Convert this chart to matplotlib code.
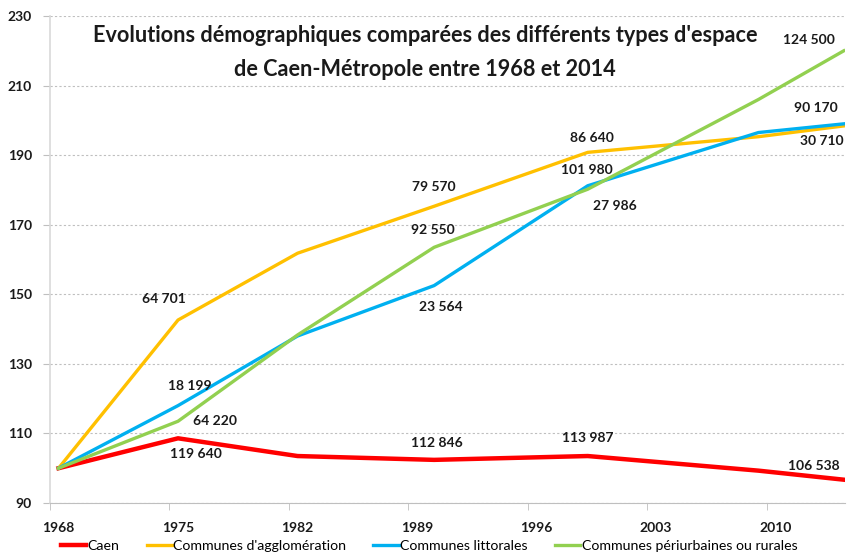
import matplotlib
matplotlib.use('Agg')
import matplotlib.pyplot as plt

# census years and indices (base 100 in 1968)
years = [1968, 1975, 1982, 1990, 1999, 2009, 2014]
caen = [100, 108.6, 103.5, 102.4, 103.5, 99.3, 96.7]
agglo = [100, 142.6, 161.8, 175.3, 190.8, 195.3, 198.4]
littoral = [100, 118.0, 138.0, 152.5, 181.2, 196.5, 199.0]
periurb = [100, 113.5, 138.3, 163.5, 180.2, 206.0, 220.0]

series_names = ["Caen", "Communes d'agglomération", "Communes littorales",
                "Communes périurbaines ou rurales"]
colors = ["#FF0000", "#FFC000", "#00B0F0", "#92D050"]

# data labels: (series index, year, text, dx px, dy px)
labels = [
    (0, 1975, "119 640", 18, -16),
    (0, 1990, "112 846", 3, 17),
    (0, 1999, "113 987", 0, 18),
    (0, 2014, "106 538", -30, 14),
    (1, 1975, "64 701", -14, 21),
    (1, 1990, "79 570", 0, 19),
    (1, 1999, "86 640", 4, 14),
    (1, 2014, "90 170", -28, 18),
    (2, 1975, "18 199", 12, 20),
    (2, 1990, "23 564", 7, -21),
    (2, 1999, "27 986", 27, -20),
    (2, 2014, "30 710", -22, -17),
    (3, 1975, "64 220", 37, 0),
    (3, 1990, "92 550", -1, 17),
    (3, 1999, "101 980", -1, 19),
    (3, 2014, "124 500", -35, 11),
]

xticks = [1968, 1975, 1982, 1989, 1996, 2003, 2010]
yticks = [90, 110, 130, 150, 170, 190, 210, 230]

plt.rcParams['font.family'] = ['Lato', 'DejaVu Sans']

fig = plt.figure(figsize=(8.47, 5.54), dpi=100)
ax = fig.add_axes([50 / 847, 51 / 554, 795 / 847, 487 / 554])

data = [caen, agglo, littoral, periurb]
widths = [3.2, 2.4, 2.4, 2.4]
for vals, name, c, w in zip(data, series_names, colors, widths):
    ax.plot(years, vals, color=c, lw=w, label=name, solid_joinstyle='round')

for si, yr, txt, dx, dy in labels:
    v = data[si][years.index(yr)]
    ax.annotate(txt, (yr, v), xytext=(dx, dy), textcoords='offset pixels',
                ha='center', va='center', fontsize=10, fontweight='bold',
                color='#1a1a1a', annotation_clip=False)

ax.set_xlim(1967.5, 2014.07)
ax.set_ylim(90, 230)
ax.set_xticks(xticks)
ax.set_xticks([x - 0.5 for x in xticks], minor=True)
ax.set_yticks(yticks)
ax.tick_params(axis='x', which='major', length=0, pad=14, labelsize=10)
ax.tick_params(axis='x', which='minor', length=5, color='#BFBFBF')
ax.tick_params(axis='y', length=5, color='#BFBFBF', pad=8, labelsize=10)
for lab in ax.get_xticklabels() + ax.get_yticklabels():
    lab.set_fontweight('bold')
    lab.set_color('#1a1a1a')

ax.grid(axis='y', linestyle=(0, (2, 2)), color='#BFBFBF', lw=0.8)
for s in ['top', 'right']:
    ax.spines[s].set_visible(False)
ax.spines['left'].set_color('#D9D9D9')
ax.spines['bottom'].set_color('#BFBFBF')
ax.spines['left'].set_linewidth(1.2)
ax.set_axisbelow(True)

fig.text(425 / 847, 1 - 52.5 / 554,
         "Evolutions démographiques comparées des différents types d'espace\n"
         "de Caen-Métropole entre 1968 et 2014",
         ha='center', va='center', fontsize=15.6, fontweight='bold',
         color='#1a1a1a', linespacing=1.75)

fig.legend(loc='center', bbox_to_anchor=(429 / 847, 1 - 546 / 554), ncol=4,
           frameon=False, fontsize=10.2, handlelength=1.8, handletextpad=0.1,
           columnspacing=1.9)

fig.savefig("out.png", dpi=100)
